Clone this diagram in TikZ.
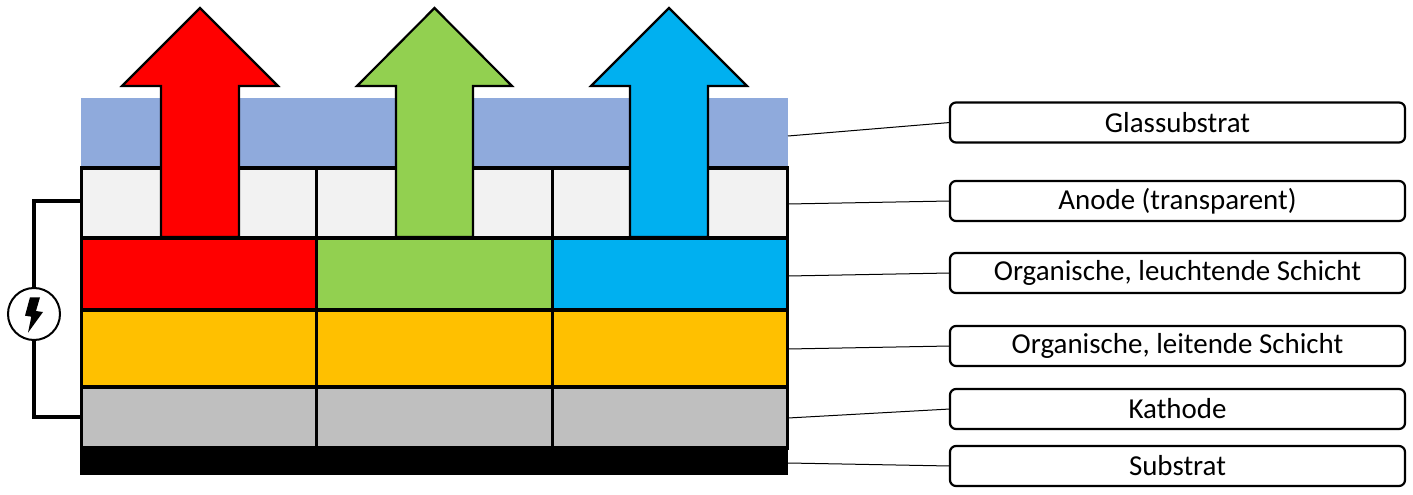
\documentclass[tikz,border=0pt]{standalone}
\usepackage{fontspec}
\setmainfont{Carlito}
\definecolor{glass}{HTML}{8FAADC}
\definecolor{anodec}{HTML}{F2F2F2}
\definecolor{redc}{HTML}{FF0000}
\definecolor{greenc}{HTML}{92D050}
\definecolor{bluec}{HTML}{00B0F0}
\definecolor{orgc}{HTML}{FFC000}
\definecolor{kath}{HTML}{BFBFBF}
\def\u{0.75pt}
\tikzset{
  x=0.75pt,y=-0.75pt,
  cell/.style={draw=black,line width=3.8*\u,inner sep=0pt,outer sep=0pt,anchor=north west},
  colA/.style={minimum width=235*\u},
  colB/.style={minimum width=236*\u},
  colC/.style={minimum width=235*\u},
  anoderow/.style={cell,fill=anodec,minimum height=70*\u},
  lightrow/.style={cell,minimum height=72*\u},
  condrow/.style={cell,fill=orgc,minimum height=77*\u},
  kathrow/.style={cell,fill=kath,minimum height=61*\u},
  labelbox/.style={draw=black,line width=2.2*\u,rounded corners=6*\u,fill=white,inner sep=0pt,outer sep=0pt,
    minimum width=455*\u,minimum height=40*\u,font=\fontsize{21.7pt}{25pt}\selectfont},
  leader/.style={draw=black,line width=1*\u},
  upa/.style={draw=black,line width=2.2*\u,miter limit=10},
  wire/.style={draw=black,line width=4*\u},
}
\begin{document}
\begin{tikzpicture}
\useasboundingbox (0,0) rectangle (1413,495);
% glass
\node[inner sep=0pt,outer sep=0pt,anchor=north west,fill=glass,minimum width=707*\u,minimum height=70*\u] (glass) at (81,98) {};
% anode
\node[anoderow,colA] (an1) at (81.5,167.7) {};
\node[anoderow,colB] (an2) at (316.5,167.7) {};
\node[anoderow,colC] (an3) at (552.5,167.7) {};
% arrows
\draw[upa,fill=redc] (200,8) -- (278,86) -- (239,86) -- (239,237) -- (161,237) -- (161,86) -- (122,86) -- cycle;
\draw[upa,fill=greenc] (434.5,8) -- (512,86) -- (473,86) -- (473,237) -- (396,237) -- (396,86) -- (357,86) -- cycle;
\draw[upa,fill=bluec] (669,8) -- (747,86) -- (708,86) -- (708,237) -- (630,237) -- (630,86) -- (591,86) -- cycle;
% emitting
\node[lightrow,colA,fill=redc] (li1) at (81.5,237.7) {};
\node[lightrow,colB,fill=greenc] (li2) at (316.5,237.7) {};
\node[lightrow,colC,fill=bluec] (li3) at (552.5,237.7) {};
% conducting
\node[condrow,colA] (co1) at (81.5,309.7) {};
\node[condrow,colB] (co2) at (316.5,309.7) {};
\node[condrow,colC] (co3) at (552.5,309.7) {};
% cathode
\node[kathrow,colA] (ka1) at (81.5,386.7) {};
\node[kathrow,colB] (ka2) at (316.5,386.7) {};
\node[kathrow,colC] (ka3) at (552.5,386.7) {};
% substrate
\node[inner sep=0pt,outer sep=0pt,anchor=north west,fill=black,minimum width=708*\u,minimum height=27.5*\u] (sub) at (80,447.2) {};
% circuit
\node[draw=black,line width=2*\u,circle,fill=white,minimum size=52*\u,inner sep=0pt,outer sep=0pt] (src) at (34,314) {};
\fill[black] (30,297.3) -- (40,297.3) -- (36,311) -- (43,312) -- (28,332.7) -- (31.3,316.7) -- (25,315.7) -- cycle;
\coordinate (wt) at (81,201);
\coordinate (wb) at (81,417);
\draw[wire] (src.north) |- (wt);
\draw[wire] (src.south) |- (wb);
% labels
\node[labelbox] (l1) at (1177.5,122.5) {\raisebox{-1.3pt}{Glassubstrat}};
\node[labelbox] (l2) at (1177.5,201) {\raisebox{-1.3pt}{Anode (transparent)}};
\node[labelbox] (l3) at (1177.5,273) {\raisebox{-1.3pt}{Organische, leuchtende Schicht}};
\node[labelbox] (l4) at (1177.5,346) {\raisebox{-1.3pt}{Organische, leitende Schicht}};
\node[labelbox] (l5) at (1177.5,409) {\raisebox{-1.3pt}{Kathode}};
\node[labelbox] (l6) at (1177.5,466) {\raisebox{-1.3pt}{Substrat}};
\coordinate (p1) at (788,136);
\coordinate (p2) at (788,204);
\coordinate (p3) at (788,276);
\coordinate (p4) at (788,349);
\coordinate (p5) at (788,418);
\coordinate (p6) at (788,463);
\draw[leader] (p1) -- (l1.west);
\draw[leader] (p2) -- (l2.west);
\draw[leader] (p3) -- (l3.west);
\draw[leader] (p4) -- (l4.west);
\draw[leader] (p5) -- (l5.west);
\draw[leader] (p6) -- (l6.west);
\end{tikzpicture}
\end{document}
